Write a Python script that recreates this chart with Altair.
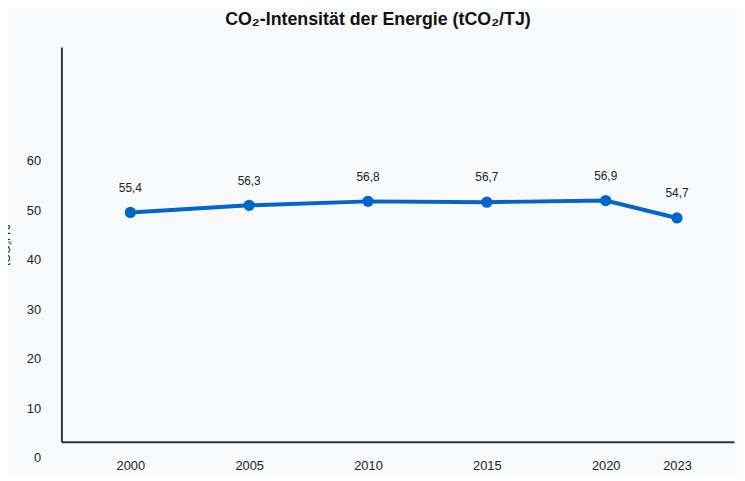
import pandas as pd
import altair as alt

years = [2000, 2005, 2010, 2015, 2020, 2023]
values = [55.4, 56.3, 56.8, 56.7, 56.9, 54.7]
labels = ['55,4', '56,3', '56,8', '56,7', '56,9', '54,7']
y_ticks = [0, 10, 20, 30, 40, 50, 60]

df = pd.DataFrame({'year': years, 'value': values, 'label': labels})
FONT = 'Liberation Sans'

x_enc = alt.X('year:Q', scale=alt.Scale(domain=[1997.1, 2025.4], nice=False, zero=False),
              axis=alt.Axis(values=years, format='d', title=None, grid=False, tickSize=0,
                            labelPadding=18, domainColor='#333', domainWidth=2,
                            labelFontSize=13, labelColor='#222', labelFont=FONT))

# axis-only layer
axis_layer = alt.Chart(pd.DataFrame({'t': y_ticks})).mark_point(opacity=0).encode(
    y=alt.Y('t:Q', scale=alt.Scale(domain=[0, 79.8], nice=False),
            axis=alt.Axis(values=y_ticks, title='tCO₂/TJ', grid=False, tickSize=0,
                          labelOffset=16, labelPadding=21, domainColor='#333', domainWidth=2,
                          labelFontSize=13, labelColor='#222', labelFont=FONT,
                          titleFontSize=12, titleFont=FONT, titleFontWeight='normal',
                          titleColor='#222', titlePadding=14))
)

base = alt.Chart(df).encode(
    x=x_enc,
    y=alt.Y('value:Q', scale=alt.Scale(domain=[26.4, 76.3], nice=False, zero=False), axis=None)
)
line = base.mark_line(color='#0066cc', strokeWidth=4)
pts = base.mark_circle(color='#0066cc', size=130, opacity=1)
txt = base.mark_text(dy=-25, fontSize=12, font=FONT, color='#222').encode(text='label:N')

data_layer = alt.layer(line, pts, txt)

chart = alt.layer(axis_layer, data_layer).resolve_scale(y='independent').properties(
    width=680, height=399,
    autosize=alt.AutoSizeParams(type='none'),
    padding={'left': 54, 'top': 37, 'right': 3, 'bottom': 30},
    background='#f8f9fa',
    title=alt.TitleParams('CO₂-Intensität der Energie (tCO₂/TJ)', fontSize=18, font=FONT,
                          fontWeight='bold', color='#111', offset=18, dx=-20)
).configure_view(stroke=None)

chart.save('out.html', embed_options={'renderer': 'svg', 'actions': False})
